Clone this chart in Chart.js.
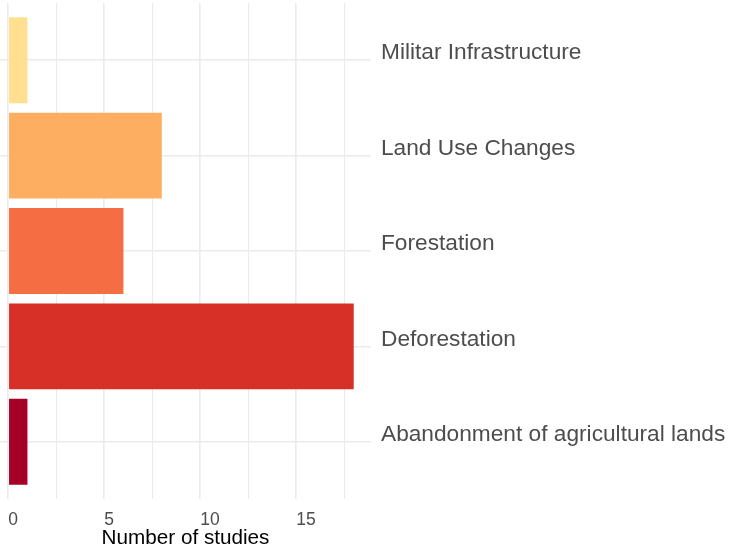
<!DOCTYPE html>
<html>
<head>
<meta charset="utf-8">
<script src="https://cdn.jsdelivr.net/npm/chart.js@4"></script>
<style>
  html, body { margin: 0; padding: 0; background: #ffffff; }
  #wrap { width: 729px; height: 549px; position: relative; }
</style>
</head>
<body>
<div id="wrap"><canvas id="c" width="729" height="549"></canvas></div>
<script>
// ---- data (bottom to top) ----
const categories = [
  'Abandonment of agricultural lands',
  'Deforestation',
  'Forestation',
  'Land Use Changes',
  'Militar Infrastructure'
];
const studies = [1, 18, 6, 8, 1];
const barColors = ['#a50026', '#d73027', '#f46d43', '#fdae61', '#fee090'];
const xTickValues = [0, 2.5, 5, 7.5, 10, 12.5, 15, 17.5];
const xLabelEvery = 5;
const xTitle = 'Number of studies';

const positions = categories.map((c, i) => i + 1);
const points = studies.map((v, i) => ({ x: v, y: positions[i] }));

const FONT = "'Liberation Sans', Arial, Helvetica, sans-serif";

new Chart(document.getElementById('c'), {
  type: 'bar',
  data: {
    datasets: [{
      data: points,
      backgroundColor: barColors,
      borderWidth: 0,
      barPercentage: 0.9,
      categoryPercentage: 1.0
    }]
  },
  options: {
    indexAxis: 'y',
    responsive: false,
    animation: false,
    layout: { padding: { top: 3, left: 0, right: 0, bottom: 0 } },
    plugins: { legend: { display: false }, tooltip: { enabled: false } },
    scales: {
      x: {
        type: 'linear',
        position: 'bottom',
        min: -0.43,
        max: 18.9,
        offset: false,
        afterBuildTicks: (s) => { s.ticks = xTickValues.map(v => ({ value: v })); },
        afterFit: (s) => { s.height = 50; s.paddingLeft = 0; s.paddingRight = 0; },
        border: { display: false },
        grid: {
          offset: false,
          color: '#ebebeb',
          lineWidth: (ctx) => (ctx.tick && ctx.tick.value % xLabelEvery === 0) ? 1.6 : 1.1,
          drawTicks: false
        },
        ticks: {
          autoSkip: false,
          maxRotation: 0,
          align: 'start',
          padding: 11,
          color: '#4d4d4d',
          font: { family: FONT, size: 17.5 },
          callback: (v) => (v % xLabelEvery === 0 ? String(v) : '')
        },
        title: {
          display: true,
          text: xTitle,
          color: '#000000',
          font: { family: FONT, size: 20.7 },
          padding: { top: 0, bottom: -2 }
        }
      },
      y: {
        type: 'linear',
        position: 'right',
        min: 0.4,
        max: 5.6,
        offset: false,
        afterBuildTicks: (s) => { s.ticks = positions.map(v => ({ value: v })); },
        afterFit: (s) => { s.width = 358; s.paddingTop = 0; s.paddingBottom = 0; },
        border: { display: false },
        grid: { offset: false, color: '#ebebeb', lineWidth: 1.6, drawTicks: false },
        ticks: {
          autoSkip: false,
          padding: 10,
          labelOffset: -7,
          color: '#4d4d4d',
          font: { family: FONT, size: 22.7 },
          callback: (v) => categories[v - 1]
        }
      }
    }
  }
});
</script>
</body>
</html>
